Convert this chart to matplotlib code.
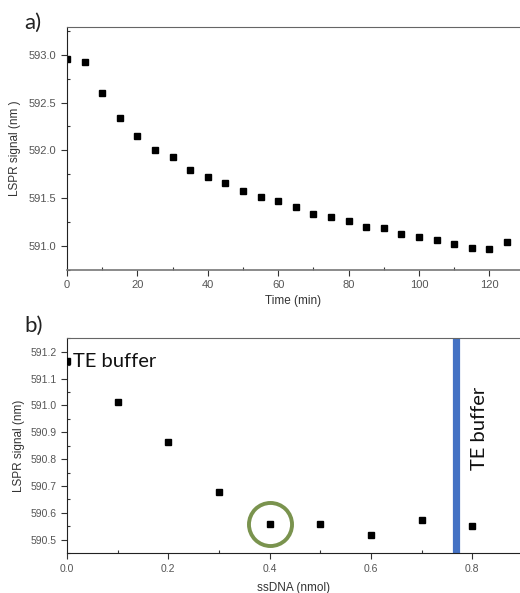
import matplotlib
matplotlib.use("Agg")
import matplotlib.pyplot as plt
from matplotlib.ticker import MultipleLocator

# ---------------- datos ----------------
# a) LSPR vs tiempo
time_min = [0, 5, 10, 15, 20, 25, 30, 35, 40, 45, 50, 55, 60, 65, 70, 75, 80,
            85, 90, 95, 100, 105, 110, 115, 120, 125]
lspr_time = [592.96, 592.92, 592.60, 592.34, 592.15, 592.00, 591.93, 591.79,
             591.72, 591.66, 591.58, 591.51, 591.47, 591.41, 591.34, 591.30,
             591.26, 591.20, 591.19, 591.13, 591.10, 591.06, 591.02, 590.98,
             590.97, 591.04]

# b) LSPR vs ssDNA
ssdna_nmol = [0.0, 0.1, 0.2, 0.3, 0.4, 0.5, 0.6, 0.7, 0.8]
lspr_dna = [591.165, 591.011, 590.865, 590.678, 590.558, 590.558, 590.517,
            590.575, 590.550]
buffer_x = 0.767      # cambio a TE buffer
highlight_idx = 4     # punto marcado con circulo

TXT = "#333333"
TICK = "#555555"

plt.rcParams["font.family"] = ["Liberation Sans", "DejaVu Sans"]

fig = plt.figure(figsize=(5.2, 5.93), dpi=100)

# ---------------- panel a ----------------
ax1 = fig.add_axes([0.1288, 0.5447, 0.8712, 0.4098])
ax1.plot(time_min, lspr_time, "s", color="black", ms=4.6, mec="black")
ax1.set_xlim(0, 128.7)
ax1.set_ylim(590.75, 593.29)
ax1.xaxis.set_major_locator(MultipleLocator(20))
ax1.xaxis.set_minor_locator(MultipleLocator(10))
ax1.yaxis.set_major_locator(MultipleLocator(0.5))
ax1.yaxis.set_minor_locator(MultipleLocator(0.25))
ax1.yaxis.set_major_formatter(matplotlib.ticker.FormatStrFormatter("%.1f"))
ax1.tick_params(which="major", direction="out", length=4, width=0.8,
                labelsize=8, labelcolor=TICK, colors="#333333")
ax1.tick_params(which="minor", direction="in", length=2.5, width=0.8, colors="#333333")
ax1.set_xlabel("Time (min)", fontsize=8.5, color=TXT, labelpad=3)
ax1.set_ylabel("LSPR signal (nm )", fontsize=8.5, color=TXT, labelpad=6)
ax1.spines["right"].set_visible(False)
ax1.spines["top"].set_color("#666666")
ax1.spines["bottom"].set_color("#777777")
ax1.spines["bottom"].set_linewidth(1.2)
ax1.spines["left"].set_color("#222222")
fig.text(0.046, 0.944, "a)", fontsize=16, family="Lato", color="#222222",
         ha="left", va="bottom")

# ---------------- panel b ----------------
ax2 = fig.add_axes([0.1288, 0.0669, 0.8712, 0.3626])
ax2.axvline(buffer_x, color="#4472C4", lw=5.2, zorder=1)
ax2.plot(ssdna_nmol, lspr_dna, "s", color="black", ms=3.8, zorder=3)
ax2.plot(ssdna_nmol[highlight_idx], lspr_dna[highlight_idx], "o", ms=31,
         mfc="none", mec="#7A934E", mew=2.8, zorder=2)
ax2.set_xlim(0, 0.894)
ax2.set_ylim(590.449, 591.25)
ax2.xaxis.set_major_locator(MultipleLocator(0.2))
ax2.xaxis.set_minor_locator(MultipleLocator(0.1))
ax2.yaxis.set_major_locator(MultipleLocator(0.1))
ax2.yaxis.set_minor_locator(MultipleLocator(0.05))
ax2.yaxis.set_major_formatter(matplotlib.ticker.FormatStrFormatter("%.1f"))
ax2.tick_params(which="major", direction="out", length=4, width=0.8,
                labelsize=7.5, labelcolor=TICK, colors="#333333")
ax2.tick_params(which="minor", direction="in", length=2.5, width=0.8, colors="#333333")
ax2.set_xlabel("ssDNA (nmol)", fontsize=8.5, color=TXT, labelpad=6)
ax2.set_ylabel("LSPR signal (nm)", fontsize=8.5, color=TXT, labelpad=4)
ax2.spines["right"].set_visible(False)
ax2.spines["top"].set_color("#666666")
ax2.spines["bottom"].set_color("#222222")
ax2.spines["left"].set_color("#222222")
ax2.text(0.011, 591.144, "TE buffer", fontsize=14.5, family="Lato",
         color="#111111", ha="left", va="baseline")
ax2.text(0.815, 590.915, "TE buffer", fontsize=14.5, family="Lato",
         color="#111111", ha="center", va="center", rotation=90)
fig.text(0.046, 0.434, "b)", fontsize=16, family="Lato", color="#222222",
         ha="left", va="bottom")

fig.savefig("out.png", dpi=100)
